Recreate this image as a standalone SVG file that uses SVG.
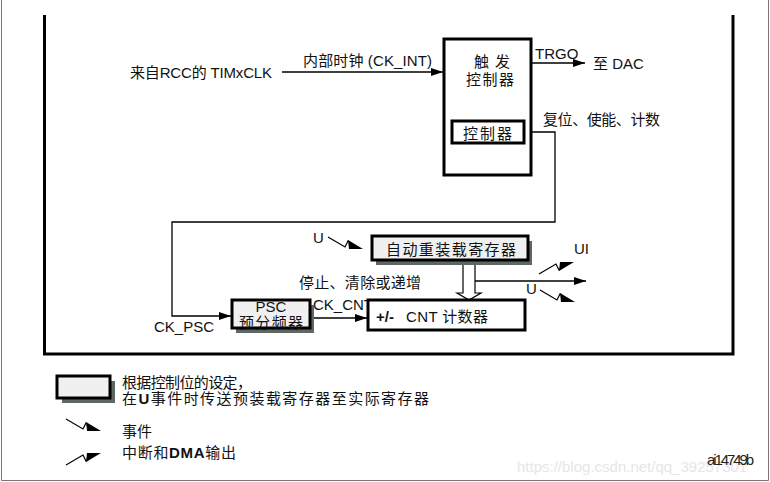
<svg xmlns="http://www.w3.org/2000/svg" width="770" height="482" viewBox="0 0 770 482">
<style>
text{font-family:'Liberation Sans','Noto Sans CJK SC',sans-serif;font-size:15px;fill:#111}
.conn{fill:none;stroke:#000;stroke-width:1.3}
.box{fill:#fff;stroke:#000;stroke-width:3}
.sbox{fill:#f0f0f0;stroke:#000;stroke-width:3}
.shadow{fill:#5f6766}
.b{font-weight:bold}
</style>
<defs>
<marker id="ah" markerWidth="12" markerHeight="8" refX="12" refY="4" orient="auto" markerUnits="userSpaceOnUse"><path d="M0,0 L12,4 L0,8 z" fill="#000"/></marker>
<g id="ev"><polyline points="0,0 17,10 20,4 24,7" fill="none" stroke="#000" stroke-width="1.2"/><polygon points="20,3 35,12 21,12" fill="#000"/></g>
</defs>
<rect width="770" height="482" fill="#fff"/>
<!-- outer frame -->
<path d="M1.5,0 V480.5 H768.5 V0" fill="none" stroke="#777" stroke-width="1"/>
<!-- inner frame -->
<path d="M44.5,15 V354 H733 V15" fill="none" stroke="#000" stroke-width="3"/>

<g id="connectors">
<path class="conn" d="M282,72 H443" marker-end="url(#ah)"/>
<path class="conn" d="M531,63 H585" marker-end="url(#ah)"/>
<path class="conn" d="M524,132 H555 V222 H172 V316 H231" marker-end="url(#ah)"/>
<path class="conn" d="M310,318 H367" marker-end="url(#ah)"/>
<path class="conn" d="M475,281 H586" marker-end="url(#ah)"/>
<path d="M463,262 V293 H457 L469,300 L481,293 H475 V262" fill="#fff" stroke="#000" stroke-width="1.2"/>
<use href="#ev" transform="translate(328,237)"/>
<use href="#ev" transform="translate(539,274) scale(1,-1)"/>
<use href="#ev" transform="translate(540,290)"/>
</g>

<g id="labels">
<text x="130" y="78" font-size="15.5" textLength="142">来自RCC的 TIMxCLK</text>
<text x="303" y="66" textLength="129">内部时钟 (CK_INT)</text>
<text x="535" y="59" font-size="14.5">TRGO</text>
<text x="593" y="69" font-size="14.5">至 DAC</text>
<text x="543" y="125" textLength="117">复位、使能、计数</text>
<text x="313" y="243" font-size="14">U</text>
<text x="299" y="288" textLength="122">停止、清除或递增</text>
<text x="154" y="332" font-size="14">CK_PSC</text>
<text x="313" y="310" font-size="13.5">CK_CNT</text>
<text x="574" y="254" font-size="14">UI</text>
<text x="526" y="294" font-size="14">U</text>
</g>

<g id="trigger">
<rect class="box" x="444" y="39" width="87" height="136" stroke-width="3.5"/>
<text x="474" y="67" textLength="36">触 发</text>
<text x="466" y="85" textLength="48">控制器</text>
</g>
<g id="controller">
<rect class="box" x="452" y="121" width="72" height="22"/>
<text x="463" y="139" textLength="49">控制器</text>
</g>

<g id="reload">
<rect class="shadow" x="376" y="241" width="156" height="24"/>
<rect class="sbox" x="372" y="236" width="156" height="24"/>
<text x="386" y="255" font-size="15.5" textLength="130">自动重装载寄存器</text>
</g>

<g id="psc">
<rect class="shadow" x="236" y="305" width="78" height="28"/>
<rect class="sbox" x="232" y="300" width="78" height="28"/>
<text x="271" y="311.5" font-size="13" text-anchor="middle">PSC</text>
<text x="239" y="327.5" font-size="14.5" textLength="64">预分频器</text>
</g>

<g id="counter">
<rect class="box" x="368" y="300" width="157" height="30"/>
<text x="376" y="322" class="b" font-size="14.5">+/-</text>
<text x="406" y="322" textLength="82">CNT 计数器</text>
</g>

<g id="legend">
<rect class="shadow" x="62" y="381" width="53" height="22"/>
<rect class="sbox" x="57" y="376" width="53" height="22"/>
<text x="122" y="388" textLength="130">根据控制位的设定，</text>
<text x="122" y="404" textLength="307">在<tspan class="b">U</tspan>事件时传送预装载寄存器至实际寄存器</text>
<use href="#ev" transform="translate(66,419)"/>
<text x="122" y="437">事件</text>
<use href="#ev" transform="translate(66,465) scale(1,-1)"/>
<text x="122" y="458" textLength="114">中断和<tspan class="b">DMA</tspan>输出</text>
</g>

<text x="517" y="472" font-size="16" style="fill:#e6e6e6">https://blog.csdn.net/qq_39257301</text>
<text x="707" y="465" font-size="10" textLength="47" style="fill:#222">ai14749b</text>
</svg>
